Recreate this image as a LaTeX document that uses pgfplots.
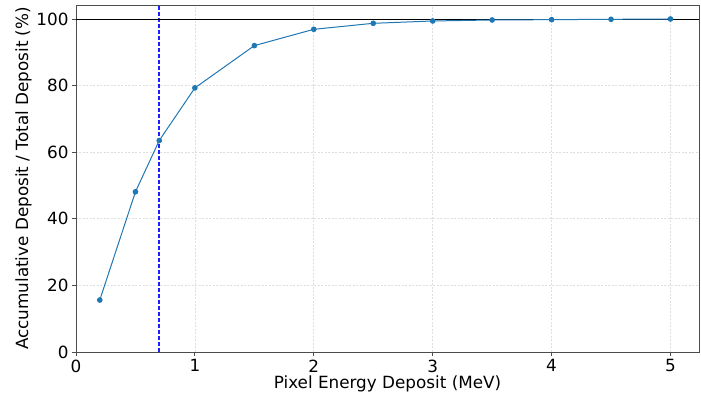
\documentclass[border=0pt]{standalone}
\usepackage{pgfplots}
\pgfplotsset{compat=1.18}
\usepackage{fontspec}
\setmainfont{DejaVu Sans}
\definecolor{mplblue}{HTML}{1F77B4}
\definecolor{vblue}{RGB}{30,30,255}
\begin{document}
\begin{tikzpicture}[x=1pt,y=1pt]
\path[use as bounding box] (-76,-44) rectangle (625,352);
\begin{axis}[
  at={(0,0)}, anchor=south west,
  scale only axis,
  width=623pt, height=347pt,
  xmin=0, xmax=5.24, ymin=0, ymax=104.2,
  xtick={0,1,2,3,4,5}, ytick={0,20,40,60,80,100},
  tick align=outside, tick pos=left,
  major tick length=4pt,
  every tick/.style={black!70, line width=0.8pt},
  axis line style={black!70, line width=0.8pt},
  grid=major,
  major grid style={dash pattern=on 2pt off 1.5pt, black!13, line width=0.6pt},
  /pgf/number format/assume math mode=true,
  ticklabel style={font=\fontsize{16.8}{19}\selectfont},
  label style={font=\fontsize{16.8}{19}\selectfont},
  xlabel={Pixel Energy Deposit (MeV)},
  ylabel={Accumulative Deposit / Total Deposit (\%)},
  xlabel style={yshift=3pt},
  ylabel style={yshift=-2pt},
  clip=true,
]
\addplot[draw=vblue, mark=none, dash pattern=on 4pt off 2pt, line width=1.7pt, forget plot] coordinates {(0.7,0) (0.7,104.2)};
\addplot[color=black, mark=none, line width=0.9pt, forget plot] coordinates {(0,100) (5.24,100)};
\addplot[color=mplblue, line width=1pt, mark=*, mark size=2.3pt, mark options={fill=mplblue, draw=mplblue}] coordinates {
(0.2,15.6) (0.5,48.1) (0.7,63.5) (1.0,79.3) (1.5,92.0) (2.0,96.9) (2.5,98.7) (3.0,99.4) (3.5,99.7) (4.0,99.8) (4.5,99.9) (5.0,100.0)
};
\end{axis}
\end{tikzpicture}
\end{document}
